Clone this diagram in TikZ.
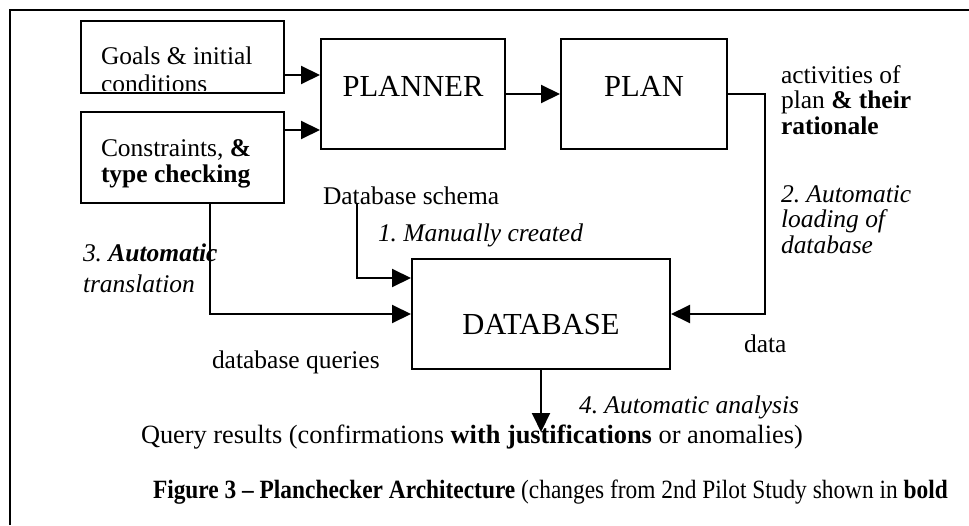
\documentclass[tikz,border=0pt]{standalone}
\usepackage{fontspec}
\setmainfont{Liberation Serif}
\usetikzlibrary{arrows.meta, positioning, calc}

\begin{document}
\frenchspacing
\begin{tikzpicture}[
    >=Stealth,
    line width=0.04cm,
    box/.style={draw, line width=0.04cm, inner sep=0pt},
    big box/.style={box, font=\fontsize{17.4}{20}\selectfont, minimum height=2.2cm},
    note/.style={font=\fontsize{14.5}{14.5}\selectfont, inner sep=0pt},
    note it/.style={note, font=\fontsize{14.5}{14.5}\selectfont\itshape},
    flow/.style={-{Triangle[length=0.38cm, width=0.36cm]}, line width=0.04cm}
]

\useasboundingbox (0,0) rectangle (19.38,10.5);

% Page frame (only top and left edges show)
\draw (0.2,0) -- (0.2,10.3) -- (19.38,10.3);

% Input boxes
\node[box, minimum width=4.06cm, minimum height=1.44cm] (goals) at (3.65,9.36) {};
\begin{scope}
    \clip ([shift={(0.04cm,0.06cm)}]goals.south west) rectangle (goals.north east);
    \node[note, anchor=north west, align=left, font=\fontsize{14.5}{15.9}\selectfont] (goals text) at (2.0,9.59) {Goals \& initial\\conditions};
\end{scope}
\node[box, minimum width=4.06cm, minimum height=1.82cm] (constraints) at (3.65,7.35) {};
\node[note, anchor=north west, align=left, font=\fontsize{14.5}{14.8}\selectfont] (constraints text) at (2.0,7.72) {Constraints, \textbf{\&}\\\textbf{type checking}};

% Planner, plan and database
\node[big box, minimum width=3.68cm, text height=0.12cm, text depth=0cm] (planner) at (8.26,8.62) {PLANNER};
\node[big box, minimum width=3.32cm, text height=0.12cm, text depth=0cm, right=1.08cm of planner] (plan) {PLAN};
\node[big box, minimum width=5.16cm, text height=0.8cm, text depth=0cm] (database) at (10.82,4.22) {DATABASE};

% Labels
\node[note, anchor=base west] (schema) at (6.44,6.42) {Database schema};
\node[note it, anchor=base west] (step one) at (7.54,5.68) {1. Manually created};
\node[note, anchor=north west, align=left] (activities) at (15.6,9.21) {activities of\\plan \textbf{\& their}\\\textbf{rationale}};
\node[note it, anchor=north west, align=left] (step two) at (15.6,6.81) {2. Automatic\\loading of\\database};
\node[note it, anchor=north west, align=left] (step three) at (1.64,5.64) {3. \textbf{Automatic}\\[3pt]translation};
\node[note, anchor=base west] (queries) at (4.22,3.14) {database queries};
\node[note, anchor=base west] (data) at (14.86,3.46) {data};
\node[note it, anchor=base west] (step four) at (11.56,2.24) {4. Automatic analysis};
\node[note, anchor=base west, font=\fontsize{15}{15}\selectfont] (results) at (2.8,1.64) {Query results (confirmations \textbf{with justifications} or anomalies)};
\node[note, anchor=base west, font=\fontsize{15}{15}\selectfont] (caption) at (3.04,0.54) {\scalebox{0.887}[1]{\textbf{Figure 3 – Planchecker Architecture} (changes from 2nd Pilot Study shown in \textbf{bold}}};

% Connectors
\coordinate (goals out) at ([yshift=-0.36cm]goals.east);
\coordinate (constraints out) at ([yshift=0.55cm]constraints.east);
\draw[flow] (goals out) -- (goals out -| planner.west);
\draw[flow] (constraints out) -- (constraints out -| planner.west);
\draw[flow] (planner) -- (plan);
\draw[flow] (plan.east) -- ++(0.74,0) |- (database.east);
\draw[flow] ([xshift=0.7cm]schema.base west) |- ([yshift=0.72cm]database.west);
\draw[flow] ([xshift=0.55cm]constraints.south) |- (database.west);
\coordinate (results tip) at (10.82,1.86);
\draw[flow] (database.south) -- (results tip);

\end{tikzpicture}
\end{document}
